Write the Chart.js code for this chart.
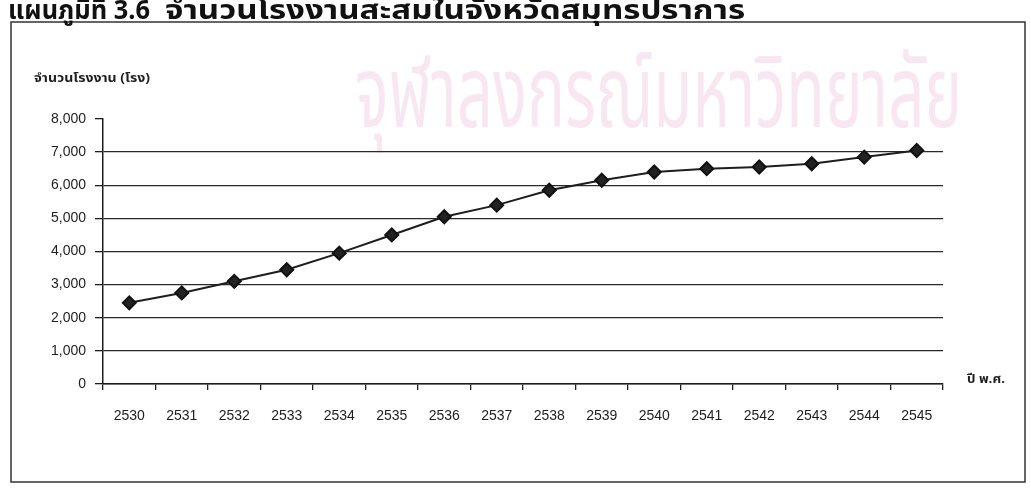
<!DOCTYPE html>
<html>
<head>
<meta charset="utf-8">
<script src="https://cdn.jsdelivr.net/npm/chart.js@4.4.1/dist/chart.umd.min.js"></script>
<style>
  html, body { margin: 0; padding: 0; background: #fff; overflow: hidden; }
  #wrap { position: relative; width: 1031px; height: 493px; }
</style>
</head>
<body>
<div id="wrap"><canvas id="chart" width="1031" height="493"></canvas></div>
<script>
// data
const years = ['2530','2531','2532','2533','2534','2535','2536','2537',
               '2538','2539','2540','2541','2542','2543','2544','2545'];
const factories = [2450, 2750, 3100, 3450, 3950, 4500, 5050, 5400,
                   5850, 6150, 6400, 6500, 6550, 6650, 6850, 7050];
const yMax = 8000;
const yStep = 1000;

// texts
const titleNo = 'แผนภูมิที่ 3.6';
const titleText = 'จำนวนโรงงานสะสมในจังหวัดสมุทรปราการ';
const yTitle = 'จำนวนโรงงาน (โรง)';
const xTitle = 'ปี พ.ศ.';
const watermark = 'จุฬาลงกรณ์มหาวิทยาลัย';

const ink = '#1e1e1e';
const thaiFont = '"Noto Sans Thai", "Noto Sans", "DejaVu Sans", sans-serif';

// draw text squeezed / stretched to a given width
function fitText(ctx, text, x, y, w) {
  const m = ctx.measureText(text).width;
  ctx.save();
  ctx.translate(x, y);
  ctx.scale(w / m, 1);
  ctx.fillText(text, 0, 0);
  ctx.restore();
}

const decor = {
  id: 'decor',
  beforeDraw(chart) {
    const ctx = chart.ctx;
    ctx.save();
    ctx.fillStyle = '#fff';
    ctx.fillRect(0, 0, chart.width, chart.height);

    // pale watermark
    ctx.fillStyle = '#f8e7f1';
    ctx.font = '100px ' + thaiFont;
    ctx.textBaseline = 'alphabetic';
    fitText(ctx, watermark, 355, 127, 607);

    // frame
    ctx.strokeStyle = '#333';
    ctx.lineWidth = 1.5;
    ctx.strokeRect(11, 22, 1014, 460);

    // heading (cut at top of page)
    ctx.fillStyle = '#111';
    ctx.font = 'bold 27px ' + thaiFont;
    fitText(ctx, titleNo, 8, 19, 142);
    fitText(ctx, titleText, 165, 19, 580);
    ctx.restore();
  },
  afterDraw(chart) {
    const ctx = chart.ctx;
    const a = chart.chartArea;
    ctx.save();
    ctx.fillStyle = ink;
    ctx.font = 'bold 12px ' + thaiFont;
    ctx.textBaseline = 'middle';
    fitText(ctx, yTitle, 34, 80, 116);
    ctx.font = 'bold 13px ' + thaiFont;
    fitText(ctx, xTitle, a.right + 24, a.bottom - 4, 38);
    ctx.restore();
  }
};

new Chart(document.getElementById('chart'), {
  type: 'line',
  data: {
    labels: years,
    datasets: [{
      data: factories,
      borderColor: ink,
      borderWidth: 2,
      backgroundColor: ink,
      pointStyle: 'rectRot',
      pointRadius: 6.5,
      pointBorderColor: '#111',
      pointBackgroundColor: '#222',
      tension: 0
    }]
  },
  options: {
    responsive: false,
    animation: false,
    layout: { padding: { left: 0, right: 88, top: 119, bottom: 0 } },
    plugins: { legend: { display: false }, tooltip: { enabled: false } },
    scales: {
      x: {
        offset: true,
        grid: { offset: true, drawOnChartArea: false, drawTicks: true, tickLength: 6, color: ink, lineWidth: 1.3 },
        border: { color: ink, width: 1.5 },
        ticks: { color: ink, padding: 18, maxRotation: 0, font: { family: 'Liberation Sans', size: 14 } },
        afterFit(s) { s.height = 109; }
      },
      y: {
        min: 0,
        max: yMax,
        grid: {
          color: c => (c.tick && c.tick.value === yMax) ? 'rgba(0,0,0,0)' : '#2a2a2a',
          tickColor: ink,
          lineWidth: 1.3,
          tickLength: 8
        },
        border: { color: ink, width: 1.5 },
        ticks: {
          stepSize: yStep,
          color: ink,
          padding: 9,
          font: { family: 'Liberation Sans', size: 14 },
          callback: v => v.toLocaleString('en-US')
        },
        afterFit(s) { s.width = 103; }
      }
    }
  },
  plugins: [decor]
});
</script>
</body>
</html>
